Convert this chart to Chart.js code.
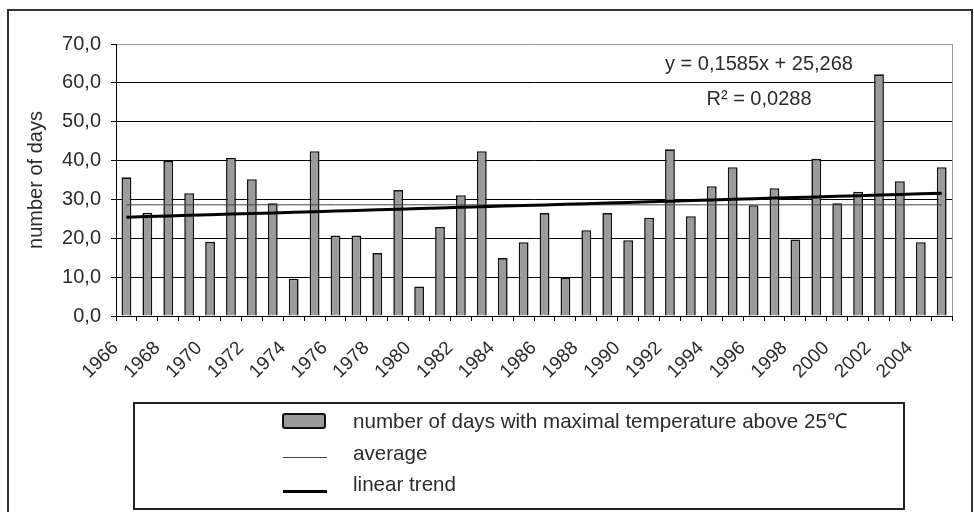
<!DOCTYPE html>
<html>
<head>
<meta charset="utf-8">
<title>Days with maximal temperature above 25°C, 1966–2005</title>
<script src="https://cdn.jsdelivr.net/npm/chart.js@4.4.1/dist/chart.umd.min.js"></script>
<style>
  html, body { margin: 0; padding: 0; background: #ffffff; }
  #wrap { width: 974px; height: 512px; position: relative; }
</style>
</head>
<body>
<div id="wrap"><canvas id="chart" width="974" height="512"></canvas></div>
<script>
// Years on the category axis
const years = [
  '1966', '1967', '1968', '1969', '1970', '1971', '1972', '1973', '1974', '1975',
  '1976', '1977', '1978', '1979', '1980', '1981', '1982', '1983', '1984', '1985',
  '1986', '1987', '1988', '1989', '1990', '1991', '1992', '1993', '1994', '1995',
  '1996', '1997', '1998', '1999', '2000', '2001', '2002', '2003', '2004', '2005'
];

// Number of days per year with maximal temperature above 25 °C
const daysAbove25 = [
  35.7, 26.6, 39.9, 31.6, 19.1, 40.7, 35.2, 29.0,  9.6, 42.4,
  20.7, 20.7, 16.2, 32.4,  7.6, 22.9, 31.1, 42.4, 14.9, 19.0,
  26.5,  9.8, 22.1, 26.5, 19.5, 25.3, 42.9, 25.7, 33.4, 38.3,
  28.5, 32.9, 19.7, 40.5, 29.0, 32.0, 62.2, 34.7, 19.0, 38.3
];

// Value-axis ticks
const yTicks = [0, 10, 20, 30, 40, 50, 60, 70];

// Linear trend as fitted: y = 0,1585x + 25,268 (x = 1 for the first year)
const trendSlope = 0.1585;
const trendIntercept = 25.268;
const trendText = ['y = 0,1585x + 25,268', 'R\u00B2 = 0,0288'];

// Series labels
const seriesLabels = [
  'number of days with maximal temperature above 25\u2103',
  'average',
  'linear trend'
];

const averageValue = daysAbove25.reduce((a, b) => a + b, 0) / daysAbove25.length;
const averageLine = years.map(() => averageValue);
const trendLine = years.map((_, i) => trendIntercept + trendSlope * (i + 1));

const FONT = "'Liberation Sans', Arial, sans-serif";
const TEXT = '#2b2b2b';

Chart.defaults.font.family = FONT;
Chart.defaults.color = TEXT;

const fmt = v => Number(v).toFixed(1).replace('.', ',');

// Thin gray right edge of the plot area and the outer frame of the figure
const framePlugin = {
  id: 'frame',
  beforeDatasetsDraw(chart) {
    const { ctx, chartArea: a } = chart;
    ctx.save();
    ctx.strokeStyle = '#9a9a9a';
    ctx.lineWidth = 1;
    ctx.beginPath();
    ctx.moveTo(Math.round(a.right) + 0.5, a.top);
    ctx.lineTo(Math.round(a.right) + 0.5, a.bottom);
    ctx.stroke();
    ctx.restore();
  },
  afterDraw(chart) {
    const { ctx } = chart;
    ctx.save();
    ctx.strokeStyle = '#333';
    ctx.lineWidth = 2;
    ctx.strokeRect(8, 10, 964, 520);
    ctx.restore();
  }
};

// Trend equation written above the bars
const equationPlugin = {
  id: 'equation',
  afterDatasetsDraw(chart) {
    const { ctx } = chart;
    ctx.save();
    ctx.font = '20px ' + FONT;
    ctx.fillStyle = TEXT;
    ctx.textAlign = 'center';
    ctx.textBaseline = 'alphabetic';
    ctx.fillText(trendText[0], 759, 70);
    ctx.fillText(trendText[1], 759, 105);
    ctx.restore();
  }
};

// Boxed legend below the axis, drawn from the dataset styles
const boxLegendPlugin = {
  id: 'boxLegend',
  afterDraw(chart) {
    const { ctx } = chart;
    const ds = chart.data.datasets;
    ctx.save();
    ctx.strokeStyle = '#222';
    ctx.lineWidth = 2;
    ctx.strokeRect(134, 403, 770, 106);

    const markX = 283, markW = 44, textX = 353;
    const baselines = [428, 460, 491];
    ctx.font = '20.6px ' + FONT;
    ctx.textAlign = 'left';
    ctx.textBaseline = 'alphabetic';

    ds.forEach((d, i) => {
      const b = baselines[i];
      if (d.type === 'bar') {
        ctx.fillStyle = d.backgroundColor;
        ctx.strokeStyle = d.borderColor;
        ctx.lineWidth = 2;
        ctx.beginPath();
        ctx.roundRect(markX, b - 14, markW - 2, 14, 2);
        ctx.fill();
        ctx.stroke();
      } else {
        ctx.strokeStyle = d.borderColor;
        ctx.lineWidth = d.borderWidth;
        ctx.beginPath();
        // odd widths sit on half pixels so the sample line stays crisp
        const ly = (i === 1 ? b - 3 : b) + (d.borderWidth % 2 ? 0.5 : 0);
        ctx.moveTo(markX, ly);
        ctx.lineTo(markX + markW, ly);
        ctx.stroke();
      }
      ctx.fillStyle = TEXT;
      ctx.fillText(d.label, textX, b);
    });
    ctx.restore();
  }
};

new Chart(document.getElementById('chart'), {
  data: {
    labels: years,
    datasets: [
      {
        type: 'bar',
        label: seriesLabels[0],
        data: daysAbove25,
        backgroundColor: '#9b9b9b',
        borderColor: '#111',
        borderWidth: 1.6,
        barPercentage: 0.47,
        categoryPercentage: 1,
        order: 3
      },
      {
        type: 'line',
        label: seriesLabels[1],
        data: averageLine,
        borderColor: '#444',
        borderWidth: 1,
        pointRadius: 0,
        tension: 0,
        order: 2
      },
      {
        type: 'line',
        label: seriesLabels[2],
        data: trendLine,
        borderColor: '#000',
        borderWidth: 3,
        pointRadius: 0,
        tension: 0,
        order: 1
      }
    ]
  },
  options: {
    responsive: false,
    devicePixelRatio: 1,
    animation: false,
    events: [],
    layout: { padding: { left: 10, right: 13, top: 44, bottom: 126 } },
    plugins: {
      legend: { display: false },
      tooltip: { enabled: false },
      title: { display: false }
    },
    scales: {
      x: {
        type: 'category',
        offset: true,
        grid: {
          offset: true,
          drawOnChartArea: false,
          drawTicks: true,
          tickLength: 5,
          tickColor: '#000'
        },
        border: { display: true, color: '#000', width: 1 },
        ticks: {
          autoSkip: false,
          maxRotation: 45,
          minRotation: 45,
          padding: 16,
          labelOffset: -11,
          color: TEXT,
          font: { size: 19, family: FONT },
          callback: (v, i) => (i % 2 === 0 ? years[i] : '')
        },
        afterFit(scale) { scale.height = 70; }
      },
      y: {
        min: 0,
        max: 70,
        afterBuildTicks(scale) { scale.ticks = yTicks.map(v => ({ value: v })); },
        grid: {
          color: c => (c.tick && c.tick.value === 70 ? '#9a9a9a' : '#000'),
          lineWidth: 1,
          drawTicks: true,
          tickLength: 5,
          tickColor: '#000'
        },
        border: { display: true, color: '#000', width: 1 },
        ticks: {
          padding: 10,
          color: TEXT,
          font: { size: 20, family: FONT },
          callback: v => fmt(v)
        },
        title: {
          display: true,
          text: 'number of days',
          color: TEXT,
          font: { size: 20, family: FONT },
          padding: { top: 14, bottom: 0 }
        },
        afterFit(scale) { scale.width = 106; }
      }
    }
  },
  plugins: [framePlugin, equationPlugin, boxLegendPlugin]
});
</script>
</body>
</html>
